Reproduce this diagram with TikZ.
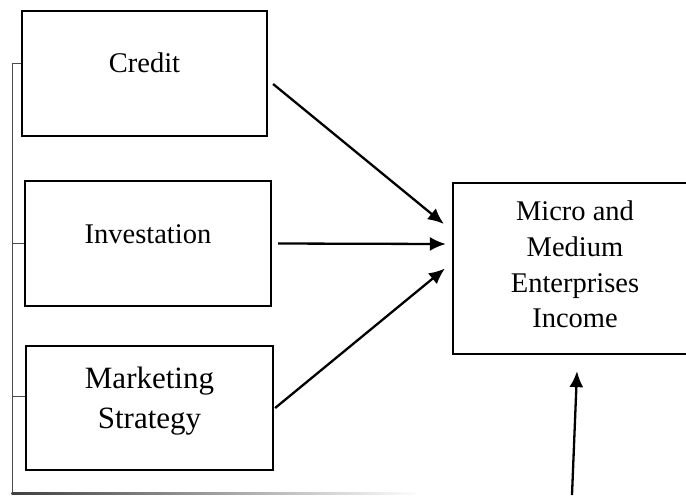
\documentclass[tikz,border=0pt]{standalone}
\usepackage{fontspec}
\setmainfont{Liberation Serif}
\usetikzlibrary{arrows.meta}

\begin{document}
\begin{tikzpicture}[x=0.5pt,y=-0.5pt,
    box/.style={draw,line width=1.1pt,inner sep=0pt},
    arr/.style={line width=1.15pt,-{Latex[length=8pt,width=7pt]}},
    txt/.style={font=\fontsize{14.25}{17.85}\selectfont,align=center}]
            \useasboundingbox (0,0) rectangle (686,495);
            \clip (0,0) rectangle (686,495);
            \node[box,minimum width=122.5pt,minimum height=62.5pt,
                  label={[txt,yshift=5.25pt]center:Credit}] (credit) at (144.5,73.5) {};
            \node[box,minimum width=123pt,minimum height=62.5pt,
                  label={[txt,yshift=4.75pt]center:Investation}] (invest) at (148,243.5) {};
            \node[box,minimum width=123.5pt,minimum height=62pt,
                  label={[txt,font=\fontsize{15.5}{20}\selectfont,yshift=3.25pt]center:Marketing\\Strategy}] (market) at (149.5,408) {};
            \node[box,minimum width=122pt,minimum height=85.5pt,
                  label={[txt,yshift=2pt]center:Micro and\\Medium\\Enterprises\\Income}] (income) at (575,268.5) {};
            \coordinate (src) at (572,495);
            % bracket on the left
            \draw[black!70,line width=0.5pt] (credit.west |- 0,63) -- (12,63) -- (12,493);
            \draw[black!70,line width=0.5pt] (invest.west |- 0,243) -- (12,243);
            \draw[black!70,line width=0.5pt] (market.west |- 0,396) -- (12,396);
            \shade[left color=black!75,middle color=black!70,right color=white] (11.5,492) rectangle (420,494);
            % arrows to the income box
            \draw[arr] ([xshift=2.5pt,yshift=-5.25pt]credit.east) -- ([xshift=-4pt,yshift=22.25pt]income.west);
            \draw[arr] ([xshift=3pt]invest.east) -- ([xshift=-3pt,yshift=12.25pt]income.west);
            \draw[arr] ([xshift=0.5pt]market.east) -- ([xshift=-3.5pt]income.west);
            \draw[arr] (src) -- ([xshift=1pt,yshift=-8pt]income.south);
        \end{tikzpicture}
\end{document}
